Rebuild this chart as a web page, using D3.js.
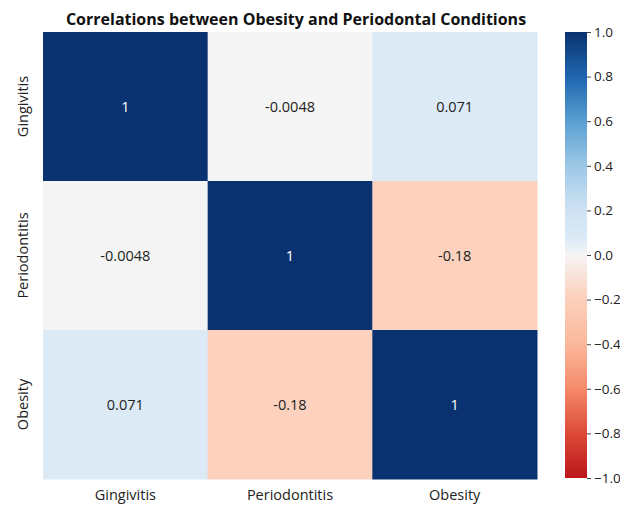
<!DOCTYPE html>
<html><head><meta charset="utf-8">
<script src="https://cdn.jsdelivr.net/npm/d3@7"></script>
<style>body{margin:0;background:#fff;} text{font-family:"Open Sans",sans-serif;}</style>
</head><body>
<svg id="chart" width="620" height="505"></svg>
<script>
const labels = ["Gingivitis", "Periodontitis", "Obesity"];
const matrix = [
  [1, -0.0048, 0.071],
  [-0.0048, 1, -0.18],
  [0.071, -0.18, 1]
];
const cellText = [
  ["1", "-0.0048", "0.071"],
  ["-0.0048", "1", "-0.18"],
  ["0.071", "-0.18", "1"]
];
const cbTicks = [1.0, 0.8, 0.6, 0.4, 0.2, 0.0, -0.2, -0.4, -0.6, -0.8, -1.0];
const colorStops = [-1, -0.8, -0.6, -0.4, -0.18, 0, 0.071, 0.2, 0.4, 0.6, 0.8, 1];
const colorRange = ["#bc151b", "#dc4a38", "#f58a6a", "#fbb89c", "#fcd2bf", "#f5f5f5",
                    "#dceaf6", "#cfe2f3", "#9cc8e6", "#5a9fd2", "#1f66b0", "#0a3270"];
const title = "Correlations between Obesity and Periodontal Conditions";

const svg = d3.select("#chart");
const L = 43, R = 537, T = 32, B = 479;
const x = d3.scaleBand().domain(labels).range([L, R]);
const y = d3.scaleBand().domain(labels).range([T, B]);
const color = d3.scaleLinear().domain(colorStops).range(colorRange).interpolate(d3.interpolateRgb);

const cells = [];
matrix.forEach((row, i) => row.forEach((v, j) => cells.push({r: labels[i], c: labels[j], v, t: cellText[i][j]})));

svg.append("g").selectAll("rect").data(cells).join("rect")
  .attr("x", d => x(d.c)).attr("y", d => y(d.r))
  .attr("width", x.bandwidth() + 0.5).attr("height", y.bandwidth() + 0.5)
  .attr("fill", d => color(d.v));

svg.append("g").selectAll("text").data(cells).join("text")
  .attr("x", d => x(d.c) + x.bandwidth() / 2)
  .attr("y", d => y(d.r) + y.bandwidth() / 2)
  .attr("text-anchor", "middle").attr("dominant-baseline", "central")
  .attr("font-size", 14.5)
  .attr("fill", d => Math.abs(d.v) > 0.6 ? "#fff" : "#222")
  .text(d => d.t);

// x labels
svg.append("g").selectAll("text").data(labels).join("text")
  .attr("x", d => x(d) + x.bandwidth() / 2).attr("y", 494)
  .attr("text-anchor", "middle").attr("dominant-baseline", "central")
  .attr("font-size", 14.5).attr("fill", "#222").text(d => d);

// y labels
svg.append("g").selectAll("text").data(labels).join("text")
  .attr("transform", d => `translate(22,${y(d) + y.bandwidth() / 2}) rotate(-90)`)
  .attr("text-anchor", "middle").attr("dominant-baseline", "central")
  .attr("font-size", 14.5).attr("fill", "#222").text(d => d);

// title
svg.append("text").attr("x", 296).attr("y", 19)
  .attr("text-anchor", "middle").attr("dominant-baseline", "central")
  .attr("font-size", 16).attr("font-weight", "bold").attr("fill", "#111")
  .text(title);

// colorbar
const cbX = 565, cbW = 22;
const cy = d3.scaleLinear().domain([-1, 1]).range([478, 32]);
const defs = svg.append("defs");
const grad = defs.append("linearGradient").attr("id", "cbg")
  .attr("x1", 0).attr("y1", 1).attr("x2", 0).attr("y2", 0);
d3.range(0, 1.0001, 0.02).forEach(t => {
  grad.append("stop").attr("offset", t).attr("stop-color", color(t * 2 - 1));
});
svg.append("rect").attr("x", cbX).attr("y", 32).attr("width", cbW).attr("height", 446)
  .attr("fill", "url(#cbg)");
const axis = d3.axisRight(cy).tickValues(cbTicks).tickFormat(d3.format(".1f")).tickSize(4).tickPadding(3);
const ag = svg.append("g").attr("transform", `translate(${cbX + cbW},0)`).call(axis);
ag.select(".domain").remove();
ag.selectAll("text").attr("font-size", 13.5).attr("fill", "#222").style("font-family", "Open Sans");
ag.selectAll("line").attr("stroke", "#444");
</script>
</body></html>
